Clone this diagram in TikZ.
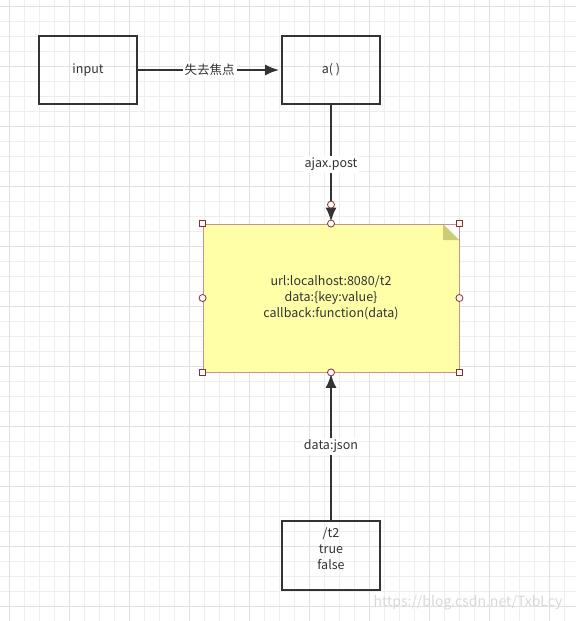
\documentclass[tikz,border=0pt]{standalone}
\usepackage{fontspec}
\setmainfont{Noto Sans CJK SC}
\usepackage{tikz}
\usetikzlibrary{arrows.meta}
\definecolor{ink}{HTML}{333333}
\definecolor{gridminor}{HTML}{EEEEEE}
\definecolor{gridmajor}{HTML}{E0E0E0}
\definecolor{notefill}{HTML}{FFFFA8}
\definecolor{notefold}{HTML}{CCCC77}
\definecolor{noteline}{HTML}{C89090}
\definecolor{handle}{HTML}{8E2B2B}
\definecolor{wmgray}{HTML}{D9D9D9}

\begin{document}
\begin{tikzpicture}[x=1pt,y=-1pt,
    txt/.style={text=ink,font=\fontsize{12.5}{16}\selectfont},
    box/.style={txt,draw=ink,line width=2.2pt,minimum width=98.5pt,minimum height=68.5pt,align=center},
    note/.style={txt,draw=noteline,line width=0.8pt,fill=notefill,minimum width=256pt,minimum height=148pt,align=center,
        path picture={
            \fill[white] ([xshift=-16pt]path picture bounding box.north east) -- (path picture bounding box.north east)
                -- ([yshift=-16pt]path picture bounding box.north east) -- cycle;
            \fill[notefold] ([xshift=-16pt]path picture bounding box.north east) -- ([xshift=-16pt,yshift=-16pt]path picture bounding box.north east)
                -- ([yshift=-16pt]path picture bounding box.north east) -- cycle;
        }},
    conn/.style={draw=ink,line width=2pt,-{Latex[length=14pt,width=11pt]}},
    lbl/.style={txt,fill=white,inner sep=2pt},
    hsq/.style={draw=handle,fill=white,line width=0.8pt,minimum size=6.5pt,inner sep=0pt},
    hci/.style={draw=handle,fill=white,line width=0.8pt,circle,minimum size=7pt,inner sep=0pt},
    wmark/.style={text=wmgray,font=\fontsize{14}{16}\selectfont}]

              \fill[white] (0,0) rectangle (576,621);
              \useasboundingbox (0,0) rectangle (576,621);
              \foreach \x in {9.5,24.5,...,576} \draw[gridminor,line width=1pt] (\x,0) -- (\x,621);
              \foreach \y in {6.5,21.5,...,621} \draw[gridminor,line width=1pt] (0,\y) -- (576,\y);
              \foreach \x in {9.5,69.5,...,576} \draw[gridmajor,line width=1pt] (\x,0) -- (\x,621);
              \foreach \y in {6.5,66.5,...,621} \draw[gridmajor,line width=1pt] (0,\y) -- (576,\y);

              \node[box] (input) at (88,70) {input};
              \node[box] (afun) at (331,70) {a( )};
              \node[note] (note) at (331,298) {url:localhost:8080/t2\\data:\{key:value\}\\callback:function(data)};
              \node[box] (tback) at (331,555.5) {/t2\\true\\false\\[-6pt]\strut};

              \draw[conn,shorten >=1.5pt] (input) to node[lbl] {失去焦点} (afun);
              \draw[conn,shorten >=2pt] (afun) to node[lbl] {ajax.post} (note);
              \draw[conn,shorten >=1.5pt] (tback) to node[lbl] {data:json} (note);

              \coordinate (aend) at ([yshift=19pt]note.north);
              \node[hci] (haend) at (aend) {};
              \foreach \a/\n in {north west/nw,north east/ne,south west/sw,south east/se}
                  \node[hsq] (sq\n) at (note.\a) {};
              \foreach \a/\n in {north/n,south/s,west/w,east/e}
                  \node[hci] (ci\n) at (note.\a) {};

              \node[wmark] (wm) at (468,603) {https://blog.csdn.net/TxbLcy};
            \end{tikzpicture}
\end{document}
